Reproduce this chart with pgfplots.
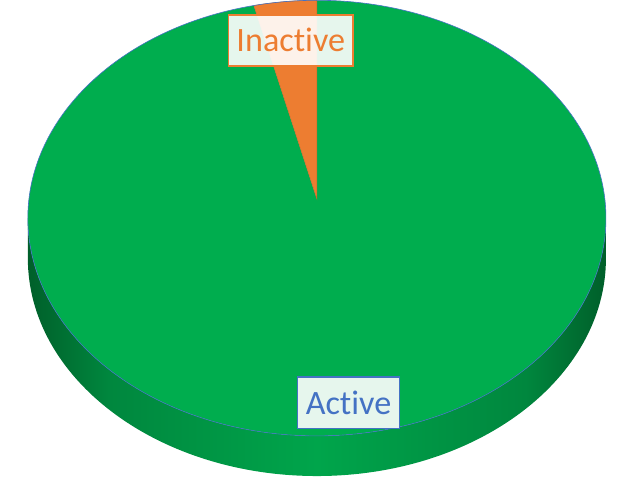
\documentclass[border=0pt]{standalone}
\usepackage{pgfplots}
\usepackage{pgfplotstable}
\pgfplotsset{compat=1.18}
\usepackage{fontspec}
\setmainfont[Ligatures=NoCommon]{Carlito}
\definecolor{pietop}{HTML}{00AD4E}
\definecolor{pieside}{HTML}{00A54B}
\definecolor{piesidemid}{HTML}{00873E}
\definecolor{piesidedark}{HTML}{005F2A}
\definecolor{pieorange}{HTML}{ED7D31}
\definecolor{pieblue}{HTML}{4472C4}
\pgfdeclarehorizontalshading{pieside}{100bp}{
  color(0bp)=(piesidedark); color(25bp)=(piesidedark); color(32bp)=(piesidemid);
  color(50bp)=(pieside); color(68bp)=(piesidemid); color(75bp)=(piesidedark);
  color(100bp)=(piesidedark)}

\pgfplotstableread{
label value
Active 96.5
Inactive 3.5
}\piedata
\pgfplotstablegetelem{0}{value}\of\piedata \let\vActive\pgfplotsretval
\pgfplotstablegetelem{1}{value}\of\piedata \let\vInactive\pgfplotsretval
\pgfmathsetmacro{\total}{\vActive+\vInactive}
\pgfmathsetmacro{\aSplit}{90+360*\vInactive/\total}
% geometry (1 axis unit = 1pt)
\def\cx{318}\def\cy{257}\def\rx{288}\def\ry{217}\def\dep{40}
\def\ax{318}\def\ay{276}
\pgfmathsetmacro{\topY}{\cy+\ry}
\pgfmathsetmacro{\sX}{\cx+\rx*cos(\aSplit)}
\pgfmathsetmacro{\sY}{\cy+\ry*sin(\aSplit)}
\pgfmathsetmacro{\lX}{\cx-\rx}

\begin{document}
\begin{tikzpicture}
\begin{axis}[
  scale only axis, width=621pt, height=478pt,
  xmin=0, xmax=621, ymin=0, ymax=478,
  axis lines=none, clip=true,
]
% side of the pie
\shade[shading=pieside]
  (axis cs:\lX,\cy) arc[start angle=180, end angle=360, x radius=\rx pt, y radius=\ry pt]
  -- ++(0pt,-\dep pt) arc[start angle=0, end angle=-180, x radius=\rx pt, y radius=\ry pt] -- cycle;
% Active slice
\fill[pietop] (axis cs:\ax,\ay) -- (axis cs:\sX,\sY)
  arc[start angle=\aSplit, end angle=450, x radius=\rx pt, y radius=\ry pt] -- cycle;
% Inactive slice
\fill[pieorange, draw=pieorange!85!black, line width=0.4pt] (axis cs:\ax,\ay) -- (axis cs:\cx,\topY)
  arc[start angle=90, end angle=\aSplit, x radius=\rx pt, y radius=\ry pt] -- cycle;
% outline of top face
\draw[pieblue, line width=0.6pt] (axis cs:\cx,\cy) ellipse[x radius=\rx pt, y radius=\ry pt];
% labels
\node[draw=pieorange, line width=1.5pt, fill=white, fill opacity=0.9, text opacity=1,
  text=pieorange, font=\fontsize{34}{40}\selectfont, inner xsep=8pt, inner ysep=14pt,
  text height=23pt, text depth=0pt] at (axis cs:292,434) {Inactive};
\node[draw=pieblue, line width=1.5pt, fill=white, fill opacity=0.9, text opacity=1,
  text=pieblue, font=\fontsize{34}{40}\selectfont, inner xsep=8pt, inner ysep=14pt,
  text height=23pt, text depth=0pt] at (axis cs:349.5,73) {Active};
\end{axis}
\end{tikzpicture}
\end{document}
